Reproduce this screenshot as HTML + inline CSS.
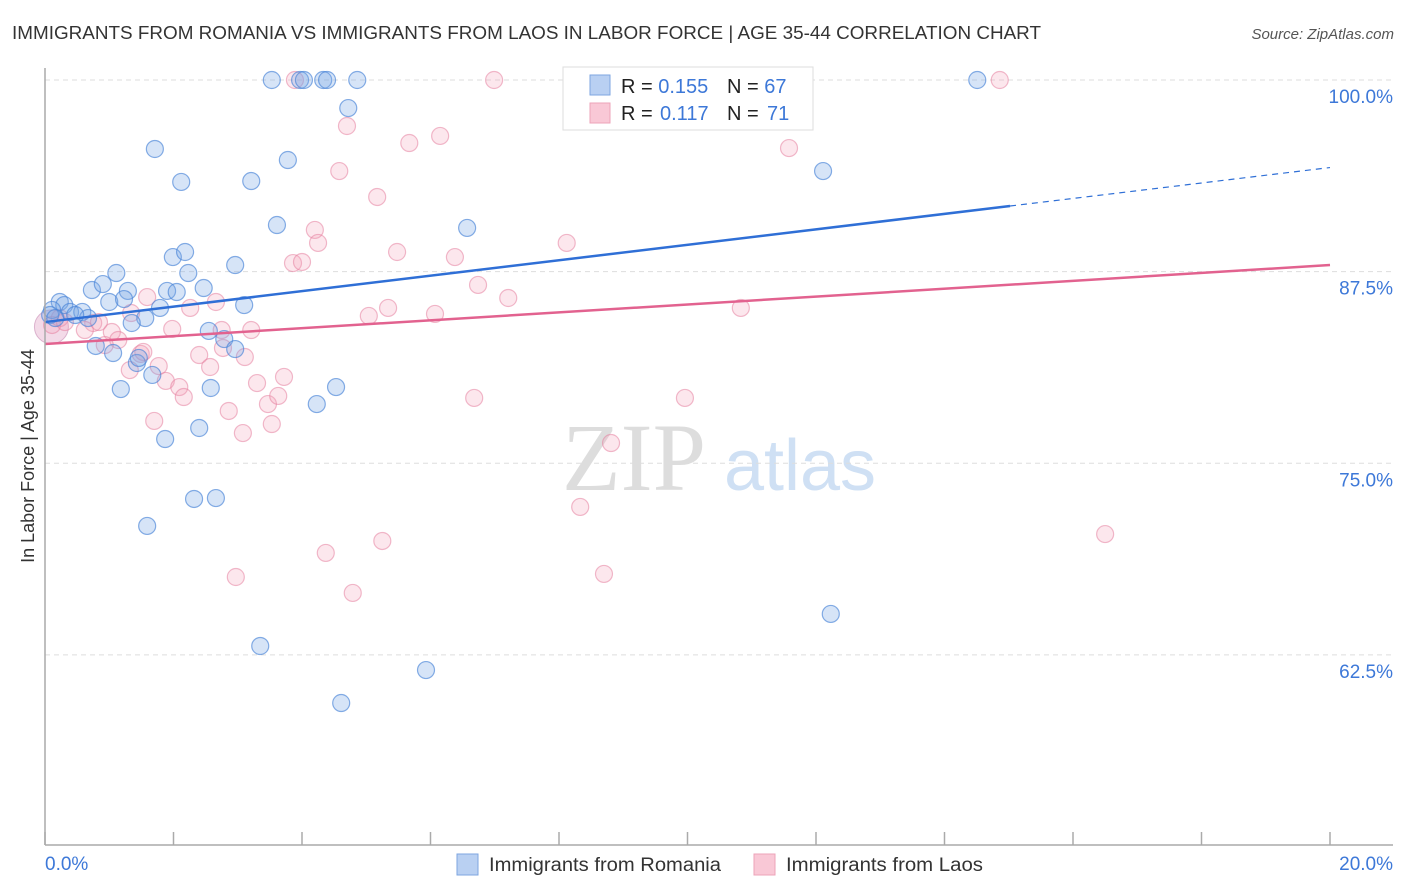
<!DOCTYPE html>
<html><head><meta charset="utf-8"><style>
body{margin:0;background:#fff;font-family:"Liberation Sans",sans-serif;}
#wrap{position:relative;width:1406px;height:892px;overflow:hidden;}
</style></head><body>
<div id="wrap">
<svg id="svg" width="1406" height="892" xmlns="http://www.w3.org/2000/svg">
<text x="12" y="39" font-size="18" fill="#333" textLength="1029" lengthAdjust="spacingAndGlyphs">IMMIGRANTS FROM ROMANIA VS IMMIGRANTS FROM LAOS IN LABOR FORCE | AGE 35-44 CORRELATION CHART</text>
<text x="1394" y="39" font-size="15" fill="#555" font-style="italic" text-anchor="end">Source: ZipAtlas.com</text>
<text x="634" y="490" font-size="96" fill="#ddd" font-family="Liberation Serif, serif" text-anchor="middle">ZIP</text>
<text x="800" y="490" font-size="72" fill="#cfe0f4" text-anchor="middle">atlas</text>
<g id="grid"></g><g id="ticks"></g><g id="pts"></g><g id="lines"></g>
<line x1="45" y1="68" x2="45" y2="845" stroke="#aaa" stroke-width="1.5"/>
<line x1="45" y1="845" x2="1393" y2="845" stroke="#aaa" stroke-width="1.5"/>
<text x="45" y="870" font-size="19" fill="#3d78d8">0.0%</text>
<text x="1393" y="870" font-size="19" fill="#3d78d8" text-anchor="end">20.0%</text>
<text transform="translate(34,456) rotate(-90)" font-size="18" fill="#333" text-anchor="middle">In Labor Force | Age 35-44</text>
<g>
<rect x="563" y="67" width="250" height="63" fill="#fff" stroke="#ddd"/>
<rect x="590" y="75" width="20" height="20" fill="#b9d0f2" stroke="#7ea6e0"/>
<rect x="590" y="103" width="20" height="20" fill="#f9c8d6" stroke="#eda3b8"/>
<text x="621" y="93" font-size="20" fill="#222">R = <tspan fill="#3d78d8">0.155</tspan><tspan x="727">N = </tspan><tspan fill="#3d78d8">67</tspan></text>
<text x="621" y="120" font-size="20" fill="#222">R = <tspan x="660" fill="#3d78d8">0.117</tspan><tspan x="727">N = </tspan><tspan x="767" fill="#3d78d8">71</tspan></text>
</g>
<g>
<rect x="457" y="854" width="21" height="21" fill="#b9d0f2" stroke="#7ea6e0"/>
<text x="489" y="871" font-size="19" fill="#333" textLength="232" lengthAdjust="spacingAndGlyphs">Immigrants from Romania</text>
<rect x="754" y="854" width="21" height="21" fill="#f9c8d6" stroke="#eda3b8"/>
<text x="786" y="871" font-size="19" fill="#333" textLength="197" lengthAdjust="spacingAndGlyphs">Immigrants from Laos</text>
</g>
</svg></div>
<script>
const yTicks=[100,87.5,75,62.5];
const yTickLabels=["100.0%","87.5%","75.0%","62.5%"];
const xTicks=[0,2,4,6,8,10,12,14,16,18,20];
const romaniaX=[3.53,3.97,4.03,4.33,4.39,4.86,14.51,9.07,4.72,1.71,2.12,3.78,3.21,12.11,3.61,6.57,1.99,2.18,2.23,2.96,1.11,0.73,0.90,1.29,1.90,2.05,2.47,3.10,1.79,1.00,1.23,1.56,1.35,0.23,0.30,0.11,0.39,0.58,0.67,0.79,1.06,1.43,1.46,1.67,2.55,2.79,2.96,1.18,2.58,4.23,4.53,1.87,2.40,2.32,2.66,1.59,12.23,3.35,5.93,4.61,0.08,0.16,0.47];
const romaniaY=[100,100,100,100,100,100,100,100.1,98.17,95.5,93.35,94.78,93.41,94.06,90.54,90.35,88.45,88.78,87.41,87.93,87.41,86.3,86.69,86.24,86.24,86.17,86.43,85.32,85.13,85.52,85.71,84.47,84.15,85.52,85.32,85.0,84.87,84.87,84.47,82.65,82.19,81.54,81.87,80.76,83.63,83.1,82.45,79.84,79.91,78.86,79.97,76.58,77.3,72.67,72.73,70.91,65.17,63.08,61.51,59.36,84.67,84.47,84.67];
const laosX=[3.89,6.99,14.86,4.70,6.15,5.67,11.58,4.58,5.17,4.20,4.25,3.86,4.00,5.48,6.38,8.12,6.74,7.21,1.59,2.66,2.26,5.34,5.04,6.07,10.83,1.98,2.75,3.21,0.75,1.04,1.14,1.34,2.40,3.11,2.77,1.49,1.53,1.32,1.77,1.88,2.09,2.16,2.86,3.30,3.72,3.47,3.63,3.53,3.08,1.70,6.68,9.96,8.81,8.33,16.50,4.37,5.25,2.97,8.70,4.79,0.11,0.23,0.62,0.84,0.31,0.93,2.57];
const laosY=[100,100,100,97.0,96.35,95.89,95.56,94.06,92.37,90.22,89.37,88.06,88.13,88.78,88.45,89.37,86.63,85.78,85.84,85.52,85.13,85.13,84.61,84.74,85.13,83.76,83.69,83.69,84.15,83.56,83.04,84.8,82.06,81.93,82.52,82.13,82.26,81.08,81.34,80.37,79.97,79.32,78.41,80.23,80.63,78.86,79.39,77.56,76.97,77.76,79.26,79.26,76.32,72.15,70.38,69.15,69.93,67.58,67.78,66.54,84.02,84.47,83.69,84.21,84.21,82.71,81.28];
const trendRomania=[84.21,0.504];
const trendLaos=[82.78,0.2575];
const NS="http://www.w3.org/2000/svg";
function sx(v){return 45+v*64.25;}
function sy(v){return 80+(100-v)*15.33;}
function mk(tag,attrs,parent){const e=document.createElementNS(NS,tag);for(const k in attrs)e.setAttribute(k,attrs[k]);document.getElementById(parent).appendChild(e);return e;}
yTicks.forEach((t,i)=>{
  const l=mk('line',{x1:45,x2:1393,y1:sy(t),y2:sy(t),stroke:'#ddd','stroke-dasharray':'5,4'},'grid');
  
  
  const tx=mk('text',{x:1393,y:sy(t)+23,'font-size':19,fill:'#3d78d8','text-anchor':'end'},'grid');
  tx.textContent=yTickLabels[i];
  
  
});
xTicks.forEach(t=>{
  const l=mk('line',{x1:sx(t),x2:sx(t),y1:832,y2:845,stroke:'#aaa','stroke-width':1.5},'ticks');
  
  
});
const big=mk('circle',{cx:sx(0.1),cy:sy(83.9),r:17,fill:'rgba(220,150,190,0.35)',stroke:'rgba(200,140,180,0.6)'},'pts');


laosX.forEach((x,i)=>{
  const c=mk('circle',{cx:sx(x),cy:sy(laosY[i]),r:8.5,fill:'rgba(245,160,185,0.25)',stroke:'rgba(230,130,160,0.55)','stroke-width':1.2},'pts');
  
  
});
romaniaX.forEach((x,i)=>{
  const c=mk('circle',{cx:sx(x),cy:sy(romaniaY[i]),r:8.5,fill:'rgba(120,165,230,0.3)',stroke:'rgba(70,130,215,0.65)','stroke-width':1.2},'pts');
  
  
});
let l1=mk('line',{x1:sx(0),y1:sy(trendRomania[0]),x2:sx(15.02),y2:sy(trendRomania[0]+trendRomania[1]*15.02),stroke:'#2f6fd6','stroke-width':2.5},'lines');


let l2=mk('line',{x1:sx(15.02),y1:sy(trendRomania[0]+trendRomania[1]*15.02),x2:sx(20),y2:sy(trendRomania[0]+trendRomania[1]*20),stroke:'#2f6fd6','stroke-width':1.2,'stroke-dasharray':'6,5'},'lines');


let l3=mk('line',{x1:sx(0),y1:sy(trendLaos[0]),x2:sx(20),y2:sy(trendLaos[0]+trendLaos[1]*20),stroke:'#e2628f','stroke-width':2.5},'lines');


</script>
</body></html>
